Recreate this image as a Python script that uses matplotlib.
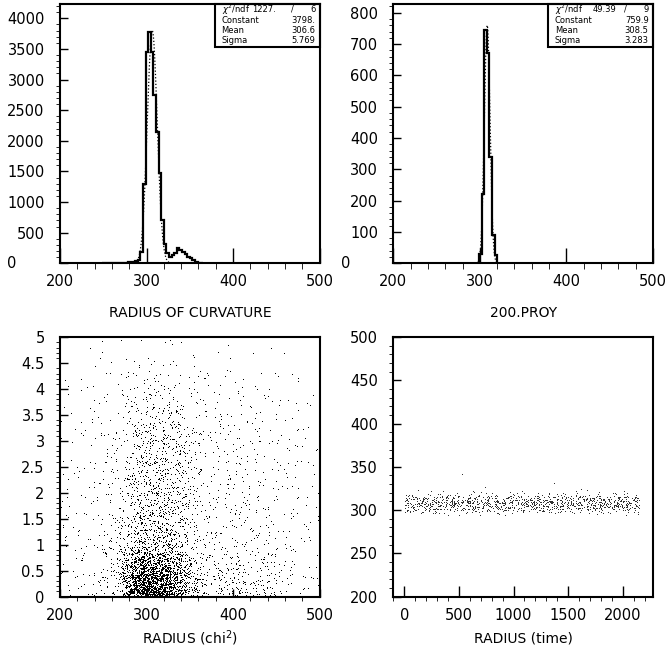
import numpy as np
import matplotlib
matplotlib.use("Agg")
import matplotlib.pyplot as plt
from matplotlib.patches import Rectangle
from matplotlib.ticker import MultipleLocator, FuncFormatter

# ---- top left: radius of curvature, 3-unit bins starting at rc_first_edge
rc_first_edge = 248
rc_counts = [3, 4, 3, 5, 6, 5, 8, 7, 10, 12, 15, 20, 28, 40, 55, 180, 1300, 3450,
             3780, 3450, 2750, 2150, 1480, 700, 320, 165, 100, 130, 170, 250, 215,
             190, 150, 110, 80, 50, 25, 10, 3]
rc_fit = [3798.0, 306.6, 5.769]
rc_box = [["$\\chi^2$/ndf", "1227.", "6"], ["Constant", "3798."], ["Mean", "306.6"], ["Sigma", "5.769"]]

# ---- top right: 200.PROY
py_first_edge = 299
py_counts = [30, 220, 745, 670, 340, 90, 25]
py_fit = [759.9, 308.5, 3.283]
py_box = [["$\\chi^2$/ndf", "49.39", "9"], ["Constant", "759.9"], ["Mean", "308.5"], ["Sigma", "3.283"]]

# ---- bottom left: radius vs chi2, counts per cell (x 20 wide from 200, y 0.25 high, top row first)
chi_rows = [
    [0, 0, 1, 1, 1, 1, 1, 1, 0, 1, 0, 1, 0, 0, 0],
    [0, 1, 1, 1, 2, 2, 2, 1, 1, 1, 1, 0, 1, 0, 0],
    [1, 1, 2, 2, 3, 3, 3, 2, 2, 2, 1, 1, 1, 1, 0],
    [1, 1, 2, 3, 5, 6, 5, 3, 2, 2, 2, 2, 1, 1, 1],
    [1, 2, 2, 3, 8, 10, 9, 5, 3, 3, 3, 2, 2, 2, 1],
    [1, 2, 3, 4, 11, 14, 13, 6, 4, 3, 3, 3, 3, 2, 1],
    [2, 2, 3, 5, 13, 18, 16, 8, 5, 4, 4, 3, 3, 2, 1],
    [2, 2, 3, 5, 15, 22, 20, 9, 5, 4, 4, 4, 3, 2, 2],
    [2, 2, 3, 6, 18, 25, 22, 10, 6, 5, 4, 4, 3, 3, 2],
    [2, 3, 4, 6, 20, 28, 24, 10, 6, 5, 5, 4, 3, 3, 2],
    [2, 3, 4, 7, 22, 30, 25, 11, 6, 5, 5, 4, 4, 3, 2],
    [2, 3, 4, 8, 24, 32, 26, 11, 7, 6, 5, 5, 4, 3, 2],
    [3, 3, 4, 8, 26, 34, 27, 12, 7, 6, 6, 5, 4, 3, 2],
    [3, 3, 5, 9, 28, 36, 28, 12, 8, 6, 6, 5, 4, 3, 2],
    [3, 4, 5, 10, 32, 40, 30, 13, 8, 7, 6, 5, 4, 3, 2],
    [3, 4, 5, 11, 38, 46, 34, 14, 9, 7, 7, 6, 5, 3, 2],
    [3, 4, 6, 14, 60, 70, 50, 18, 10, 9, 8, 7, 5, 4, 2],
    [4, 5, 7, 20, 120, 130, 85, 28, 12, 12, 11, 9, 7, 4, 3],
    [4, 5, 8, 28, 220, 230, 140, 45, 15, 18, 18, 14, 9, 5, 3],
    [4, 5, 8, 30, 250, 260, 150, 50, 16, 22, 24, 18, 10, 6, 3],
]
chi_x_edges = np.arange(200, 501, 20)
chi_y_edges = np.arange(5.0, -0.01, -0.25)

# ---- bottom right: radius vs time, counts per cell (time 100 wide, radius 4 high, top row first)
tm_rows = [
    [1, 0, 1, 1, 0, 0, 1, 1, 0, 1, 0, 1, 0, 1, 0, 1, 1, 0, 0, 1, 1, 0],
    [4, 3, 4, 4, 4, 3, 4, 4, 3, 4, 4, 4, 3, 4, 4, 4, 3, 4, 4, 4, 4, 2],
    [9, 9, 10, 9, 9, 10, 9, 9, 9, 9, 9, 10, 9, 9, 9, 9, 9, 10, 9, 9, 9, 5],
    [12, 13, 13, 12, 13, 12, 12, 13, 12, 12, 13, 12, 13, 12, 12, 12, 13, 12, 13, 12, 13, 6],
    [12, 12, 12, 12, 12, 12, 12, 12, 12, 12, 12, 12, 12, 12, 12, 12, 12, 12, 12, 12, 12, 6],
    [8, 8, 8, 7, 8, 7, 8, 7, 8, 8, 7, 7, 8, 8, 7, 8, 7, 8, 8, 7, 8, 4],
    [3, 2, 3, 2, 2, 3, 2, 2, 2, 3, 2, 2, 2, 3, 2, 2, 2, 2, 3, 2, 2, 1],
]
tm_x_edges = np.append(np.arange(0, 2101, 100), 2150)
tm_y_edges = np.arange(322, 293, -4)
tm_out_t = [530, 743, 1078, 1366, 1568, 2009, 150, 860]
tm_out_r = [340.5, 325, 321, 330, 321, 321, 296, 296]


def hash01(a):
    # deterministic scatter of the points around their cell
    return np.modf(np.abs(np.sin(a) * 43758.5453))[0]


def cell_points(rows, x_edges, y_edges, xlim, ylim):
    # each cell's count is spread with a tent shape one cell wide on each side,
    # so neighbouring cells blend smoothly
    xs, ys = [], []
    k = 0
    for r, row in enumerate(rows):
        for c, n in enumerate(row):
            i = np.arange(n, dtype=float)
            u = hash01(i * 12.9898 + k * 78.233 + 0.5) + hash01(i * 93.989 + k * 67.345 + 2.1) - 0.5
            v = hash01(i * 39.3468 + k * 11.135 + 1.7) + hash01(i * 26.651 + k * 45.164 + 3.3) - 0.5
            xs.append(x_edges[c] + u * (x_edges[c + 1] - x_edges[c]))
            ys.append(y_edges[r + 1] + v * (y_edges[r] - y_edges[r + 1]))
            k += 1
    xs, ys = np.concatenate(xs), np.concatenate(ys)
    xs = np.where(xs < xlim[0], 2 * xlim[0] - xs, xs)
    xs = np.where(xs > xlim[1], 2 * xlim[1] - xs, xs)
    ys = np.where(ys < ylim[0], 2 * ylim[0] - ys, ys)
    ys = np.where(ys > ylim[1], 2 * ylim[1] - ys, ys)
    return xs, ys


def style_axes(ax, xmaj, xmin, ymaj, ymin, xlen, ylen):
    for s in ax.spines.values():
        s.set_linewidth(1.5)
    ax.xaxis.set_major_locator(MultipleLocator(xmaj))
    ax.xaxis.set_minor_locator(MultipleLocator(xmin))
    ax.yaxis.set_major_locator(MultipleLocator(ymaj))
    ax.yaxis.set_minor_locator(MultipleLocator(ymin))
    ax.tick_params(direction="in", labelsize=10.5, width=1.0)
    ax.tick_params(axis="x", which="major", length=xlen[0], pad=8)
    ax.tick_params(axis="x", which="minor", length=xlen[1])
    ax.tick_params(axis="y", which="major", length=ylen[0], pad=11)
    ax.tick_params(axis="y", which="minor", length=ylen[1])


def hist_panel(ax, first_edge, counts, fit, box, ymax, ymaj, ymin, xr, num_x):
    edges = first_edge + 3 * np.arange(len(counts) + 1)
    ax.stairs(counts, edges, baseline=0, color="black", linewidth=1.6)
    xf = np.linspace(xr[0], xr[1], 300)
    ax.plot(xf, fit[0] * np.exp(-0.5 * ((xf - fit[1]) / fit[2]) ** 2), ":", color="black", linewidth=0.9)
    ax.set_xlim(200, 500)
    ax.set_ylim(0, ymax)
    style_axes(ax, 100, 20, ymaj, ymin, (10.5, 4.5), (5.5, 3))
    ax.yaxis.set_major_formatter(FuncFormatter(lambda v, p: "" if v == 0 else "%d" % v))
    ax.text(-0.185, 0, "0", transform=ax.get_yaxis_transform(), ha="center", va="center", fontsize=10.5)
    # fit statistics box
    ax.add_patch(Rectangle((0.597, 0.835), 0.403, 0.165, transform=ax.transAxes, fill=False,
                           linewidth=1.5, edgecolor="black", clip_on=False))
    rows_y = [0.979, 0.938, 0.898, 0.858]
    for (row, yy) in zip(box, rows_y):
        ax.text(0.622, yy, row[0], transform=ax.transAxes, fontsize=6, ha="left", va="center")
        if len(row) == 3:
            ax.text(num_x, yy, row[1], transform=ax.transAxes, fontsize=6, ha="right", va="center")
            ax.text(0.895, yy, "/", transform=ax.transAxes, fontsize=6, ha="center", va="center")
            ax.text(0.983, yy, row[2], transform=ax.transAxes, fontsize=6, ha="right", va="center")
        else:
            ax.text(0.983, yy, row[1], transform=ax.transAxes, fontsize=6, ha="right", va="center")


fig = plt.figure(figsize=(6.65, 6.63), dpi=100)
L1, L2, W = 0.0902, 0.5914, 0.3905
B1, B2, H = 0.6029, 0.1003, 0.3911

ax1 = fig.add_axes([L1, B1, W, H])
hist_panel(ax1, rc_first_edge, rc_counts, rc_fit, rc_box, 4233, 500, 100, (289, 326), 0.832)

ax2 = fig.add_axes([L2, B1, W, H])
hist_panel(ax2, py_first_edge, py_counts, py_fit, py_box, 828, 100, 20, (298, 320), 0.858)

ax3 = fig.add_axes([L1, B2, W, H])
cx, cy = cell_points(chi_rows, chi_x_edges, chi_y_edges, (200, 500), (0, 5))
ax3.plot(cx, cy, ",", color="black")
ax3.set_xlim(200, 500)
ax3.set_ylim(0, 5)
style_axes(ax3, 100, 20, 0.5, 0.1, (6, 3), (5.5, 3))
ax3.yaxis.set_major_formatter(FuncFormatter(lambda v, p: "%g" % v))

ax4 = fig.add_axes([L2, B2, W, H])
tx, ty = cell_points(tm_rows, tm_x_edges, tm_y_edges, (0, 2150), (200, 500))
ax4.plot(tx, ty, ",", color="#303030")
ax4.plot(tm_out_t, tm_out_r, ",", color="#303030")
ax4.set_xlim(-100, 2275)
ax4.set_ylim(200, 500)
style_axes(ax4, 500, 100, 50, 10, (8, 3), (5.5, 3))

# titles under each panel
fig.text(L1 + W / 2, 1 - 313 / 663, "RADIUS OF CURVATURE", ha="center", va="center", fontsize=10)
fig.text(L2 + W / 2, 1 - 313 / 663, "200.PROY", ha="center", va="center", fontsize=10)
fig.text(L1 + W / 2, 1 - 638 / 663, "RADIUS (chi$^{2}$)", ha="center", va="center", fontsize=10)
fig.text(L2 + W / 2, 1 - 638 / 663, "RADIUS (time)", ha="center", va="center", fontsize=10)

fig.savefig("out.png", dpi=100)
